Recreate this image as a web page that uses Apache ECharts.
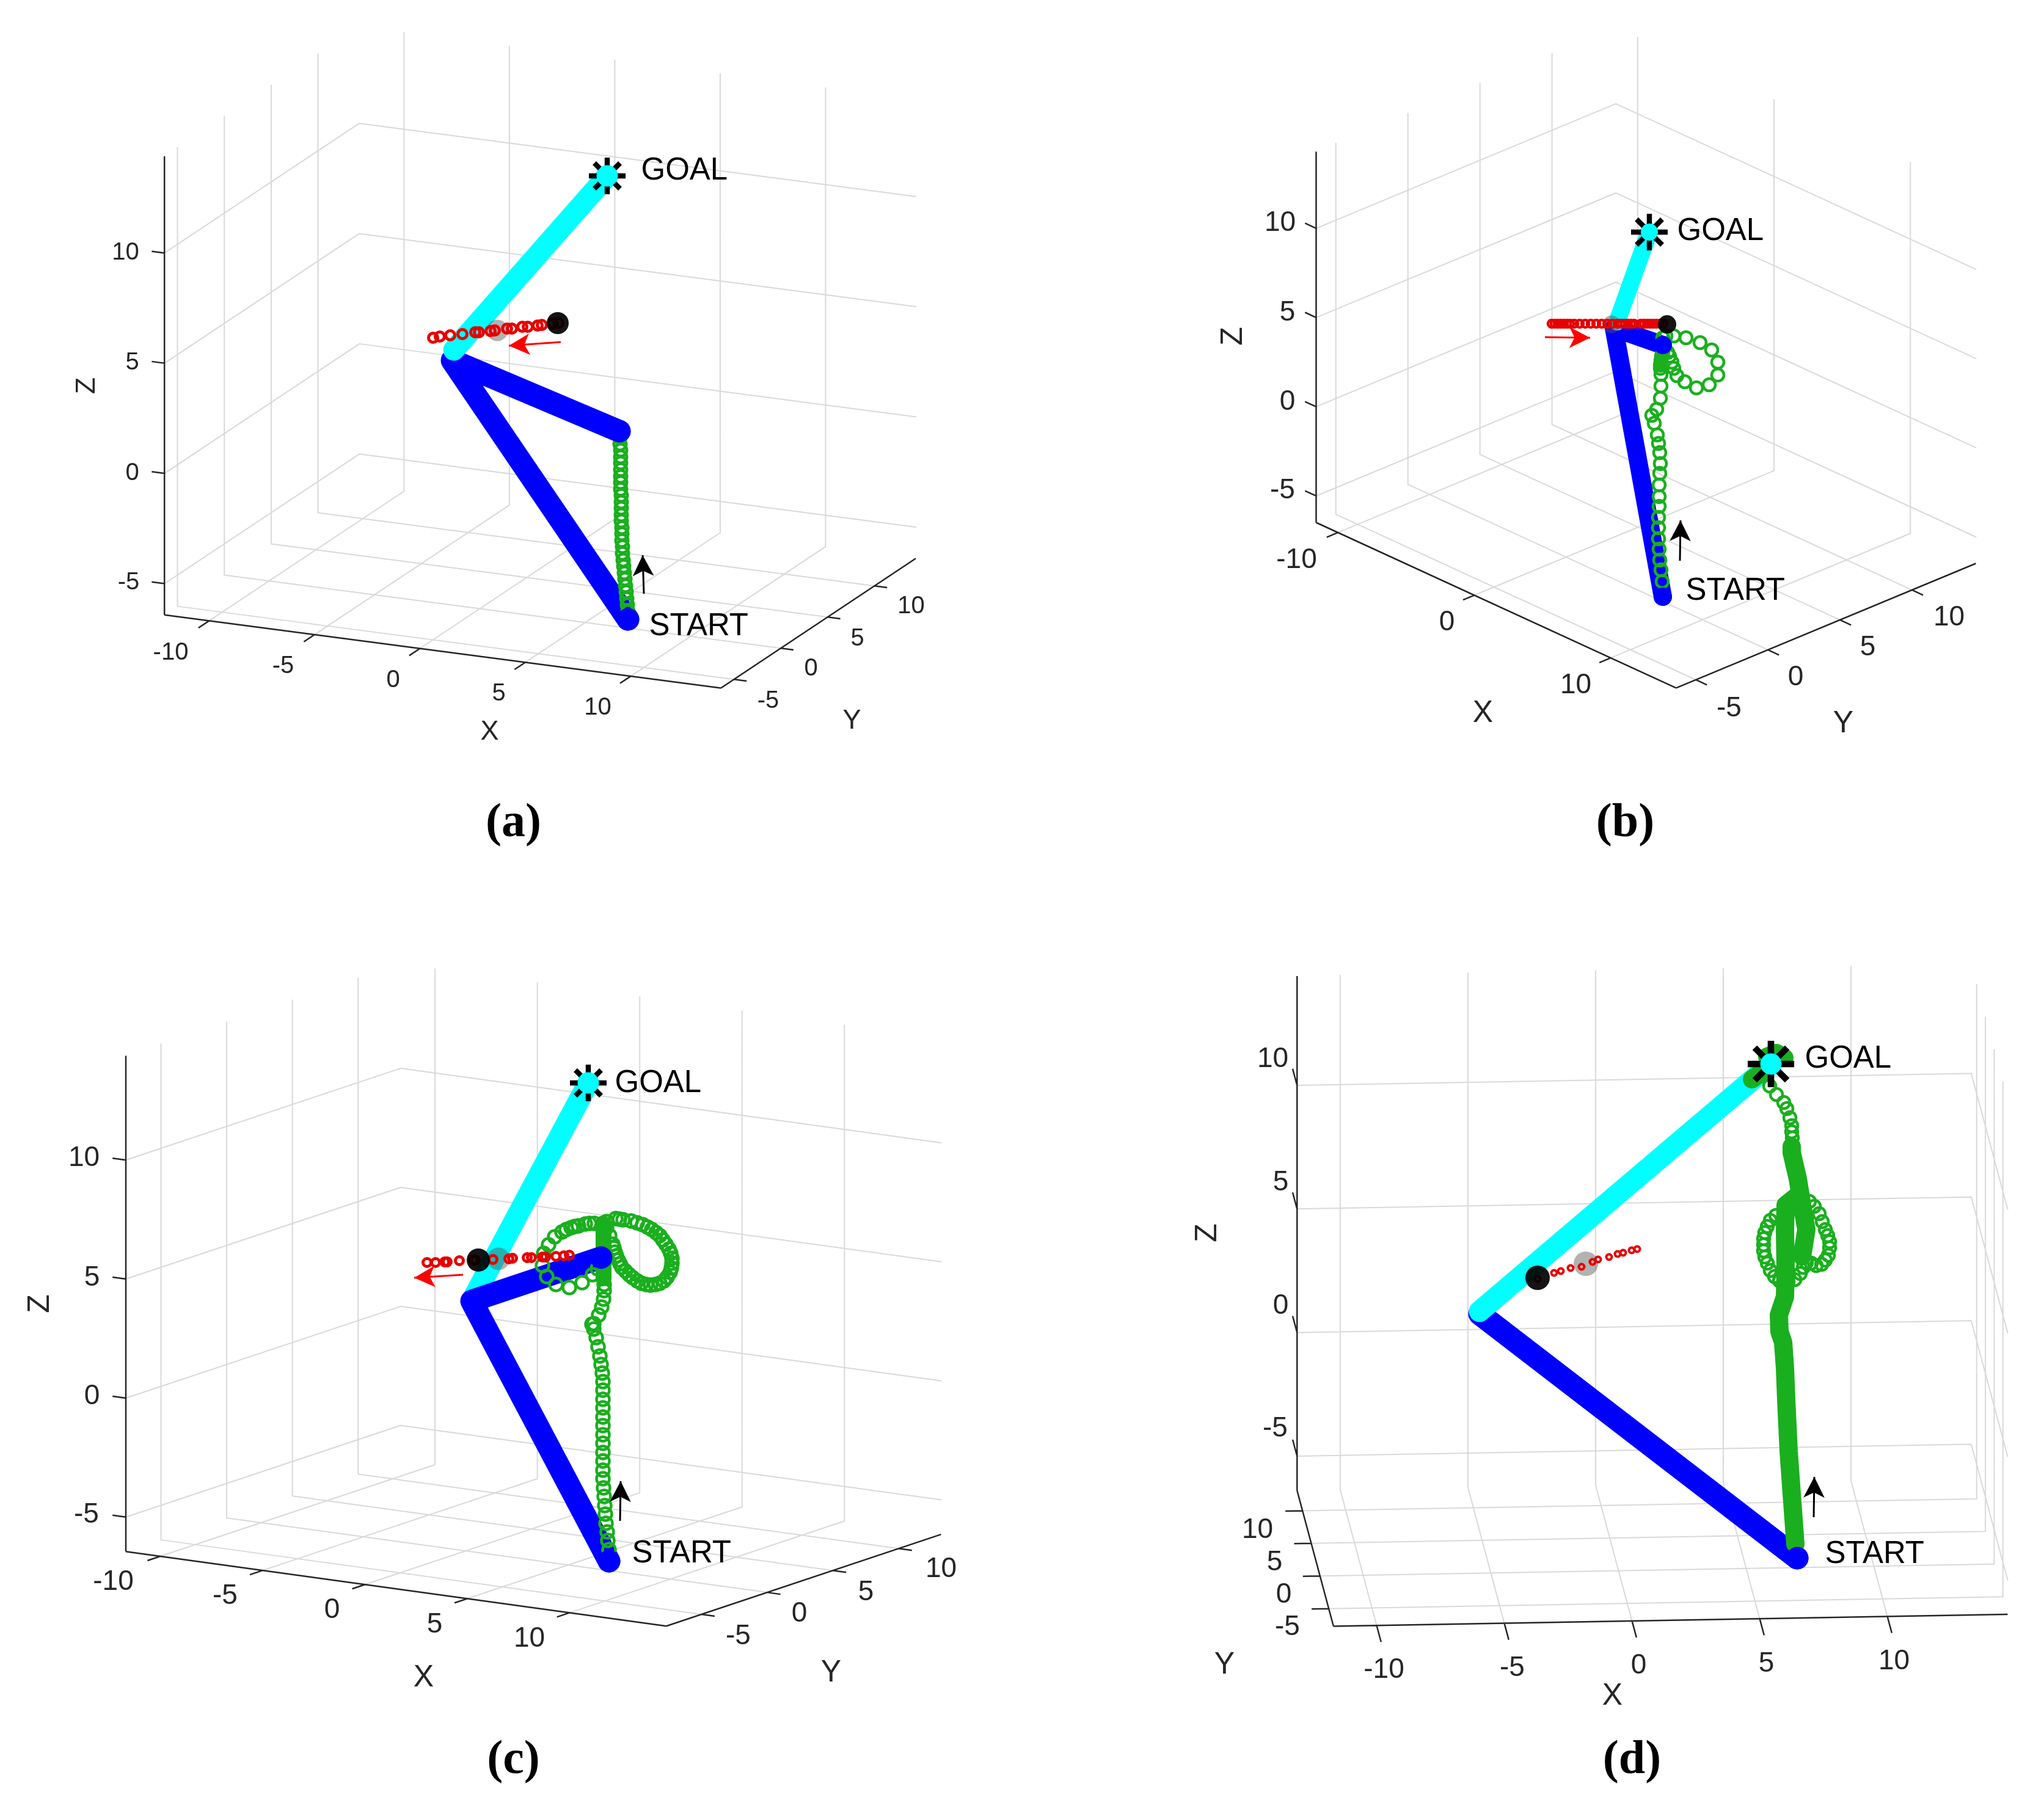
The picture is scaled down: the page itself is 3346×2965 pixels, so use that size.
<!DOCTYPE html>
<html>
<head>
<meta charset="utf-8">
<style>html,body{margin:0;padding:0;background:#fff}#chart{width:3346px;height:2965px}</style>
<script src="https://cdn.jsdelivr.net/npm/echarts@6/dist/echarts.min.js"></script>
</head>
<body>
<div id="chart"></div>
<script>
// 刻度值
const xTicks = [-10, -5, 0, 5, 10];
const xTicksB = [-10, 0, 10];
const yTicks = [-5, 0, 5, 10];
const zTicks = [-5, 0, 5, 10];

// (a) 读图得到的轨迹点
const blueA = [[1028, 1014], [740, 590], [1014, 706]];
const cyanA = [[743, 573], [994, 288]];
const greenA = [[1028, 1001], [1027, 990], [1026, 980], [1025, 969], [1024, 959], [1023, 948], [1022, 938], [1021, 927], [1020, 917], [1019, 906], [1019, 895], [1018, 885], [1018, 874], [1018, 864], [1017, 853], [1017, 843], [1017, 832], [1017, 822], [1017, 811], [1016, 801], [1016, 790], [1016, 780], [1016, 769], [1016, 758], [1016, 748], [1016, 737], [1015, 727], [1015, 716]];
const redA = [[709, 553], [720, 551], [737, 549], [757, 547], [778, 544], [784, 544], [803, 542], [810, 541], [830, 538], [838, 538], [855, 535], [864, 535], [880, 533], [887, 532], [905, 530], [914, 529]];
const tickLabelsA = [['10', 206, 414], ['5', 217, 594], ['0', 217, 775], ['-5', 211, 954], ['-10', 280, 1069], ['-5', 464, 1091], ['0', 644, 1114], ['5', 817, 1136], ['10', 979, 1159], ['-5', 1258, 1148], ['0', 1328, 1095], ['5', 1404, 1046], ['10', 1492, 993]];

// (b)
const blueB = [[2722, 977], [2642, 537], [2722, 565]];
const cyanB = [[2647, 527], [2700, 379]];
const greenB = [[2721, 952], [2719, 933], [2717, 917], [2716, 899], [2715, 882], [2715, 864], [2715, 847], [2716, 829], [2716, 813], [2716, 794], [2717, 775], [2718, 759], [2717, 741], [2715, 726], [2713, 712], [2708, 693], [2704, 680], [2712, 670], [2718, 652], [2719, 632], [2719, 613], [2718, 603], [2718, 597], [2719, 590], [2720, 583], [2722, 577], [2723, 570], [2722, 562], [2722, 553], [2727, 550], [2740, 550], [2760, 553], [2783, 561], [2802, 573], [2812, 593], [2812, 614], [2798, 630], [2777, 635], [2758, 625], [2745, 615], [2740, 603], [2737, 593], [2733, 583], [2730, 577]];
const greenThickB = [[2719, 580], [2718, 600]];
const redB = [[2540, 530], [2545, 530], [2550, 530], [2555, 530], [2560, 530], [2565, 530], [2570, 530], [2577, 530], [2586, 530], [2595, 530], [2604, 530], [2613, 530], [2622, 530], [2631, 530], [2640, 530], [2648, 530], [2654, 530], [2660, 530], [2665, 530], [2670, 530], [2675, 530], [2686, 530], [2691, 530], [2696, 530], [2701, 530], [2706, 530], [2711, 530], [2717, 530], [2723, 530]];
const tickLabelsB = [['10', 2096, 366], ['5', 2108, 513], ['0', 2108, 659], ['-5', 2100, 804], ['-10', 2123, 918], ['0', 2369, 1020], ['10', 2580, 1123], ['-5', 2831, 1161], ['0', 2940, 1110], ['5', 3058, 1061], ['10', 3191, 1012]];

// (c)
const blueC = [[997, 2556], [772, 2130], [984, 2059]];
const cyanC = [[772, 2130], [963, 1773]];
const greenC = [[997, 2537], [995, 2522], [994, 2508], [992, 2494], [991, 2479], [990, 2465], [989, 2450], [988, 2436], [987, 2421], [987, 2407], [987, 2392], [987, 2378], [987, 2363], [987, 2349], [987, 2334], [987, 2320], [987, 2305], [987, 2291], [987, 2276], [987, 2262], [986, 2248], [984, 2234], [982, 2220], [979, 2205], [976, 2190], [972, 2176], [969, 2168], [972, 2167], [980, 2153], [985, 2140], [988, 2127], [989, 2113], [989, 2103], [988, 2090], [993, 2000], [1008, 1995], [1014, 1996], [1020, 1997], [1033, 1999], [1043, 2002], [1052, 2005], [1060, 2009], [1067, 2013], [1074, 2018], [1080, 2023], [1085, 2030], [1090, 2037], [1095, 2045], [1098, 2052], [1100, 2060], [1100, 2068], [1099, 2076], [1097, 2083], [1092, 2091], [1087, 2097], [1080, 2101], [1073, 2103], [1065, 2104], [1058, 2103], [1050, 2101], [1043, 2097], [1036, 2092], [1030, 2087], [1024, 2081], [1018, 2075], [1015, 2069], [1012, 2063], [1009, 2056], [1007, 2050], [1005, 2043], [1003, 2037], [998, 2023], [993, 2010], [987, 2003], [973, 2003], [965, 2003], [958, 2004], [947, 2007], [941, 2008], [935, 2010], [927, 2013], [920, 2017], [908, 2025], [898, 2038], [890, 2052], [888, 2072], [895, 2090], [910, 2103], [932, 2108], [953, 2100], [970, 2087], [978, 2077]];
const greenThickC = [[988, 2093], [988, 2005]];
const redC = [[699, 2067], [713, 2067], [728, 2066], [732, 2066], [752, 2064], [775, 2063], [778, 2063], [807, 2062], [833, 2061], [839, 2060], [863, 2059], [870, 2059], [888, 2058], [893, 2058], [910, 2057], [923, 2056], [932, 2055]];
const tickLabelsC = [['10', 138, 1897], ['5', 151, 2093], ['0', 151, 2287], ['-5', 142, 2481], ['-10', 186, 2591], ['-5', 369, 2614], ['0', 544, 2637], ['5', 712, 2661], ['10', 867, 2684], ['-5', 1209, 2680], ['0', 1309, 2643], ['5', 1418, 2608], ['10', 1541, 2570]];

// (d)
const blueD = [[2942, 2551], [2422, 2151]];
const cyanD = [[2422, 2147], [2899, 1742]];
const greenD = [[2897, 1778], [2908, 1792], [2920, 1805], [2925, 1815], [2930, 1830], [2933, 1843], [2933, 1853], [2934, 1863], [2907, 1990], [2898, 1998], [2893, 2008], [2889, 2018], [2887, 2028], [2887, 2038], [2887, 2048], [2889, 2058], [2893, 2068], [2898, 2080], [2905, 2090], [2913, 2097], [2927, 2098], [2938, 2095], [2947, 2085], [2952, 2075], [2957, 2067], [2965, 2068], [2973, 2072], [2982, 2070], [2988, 2063], [2993, 2055], [2995, 2043], [2995, 2033], [2992, 2023], [2988, 2013], [2983, 2000], [2978, 1987], [2970, 1975], [2962, 1967]];
const greenThickD = [[2939, 2528], [2934, 2460], [2928, 2376], [2924, 2291], [2922, 2240], [2919, 2198], [2913, 2180], [2912, 2153], [2922, 2123], [2923, 2080], [2922, 2013], [2923, 1973], [2943, 1957], ['-', '-'], [2950, 2057], [2957, 2013], [2950, 1973], [2943, 1930], [2933, 1887], [2933, 1877], ['-', '-'], [2868, 1767], [2885, 1755], [2900, 1742], ['-', '-'], [2893, 1730], [2908, 1724], [2921, 1732]];
const redD = [[2517, 2094], [2544, 2084], [2555, 2081], [2571, 2076], [2589, 2074], [2607, 2066], [2616, 2062], [2634, 2058], [2648, 2053], [2657, 2051], [2671, 2047], [2680, 2045]];
const tickLabelsD = [['10', 2084, 1735], ['5', 2097, 1937], ['0', 2097, 2139], ['-5', 2088, 2340], ['-10', 2266, 2735], ['-5', 2476, 2732], ['0', 2683, 2728], ['5', 2892, 2725], ['10', 3101, 2721], ['10', 2059, 2506], ['5', 2087, 2559], ['0', 2102, 2612], ['-5', 2108, 2665]];

// 每个子图的视角（各轴在图上的方向）和标注
const panels = [
  {
    rect: [0, 0, 1673, 1483],
    corner: [269.2, 1006.8], ex: [910.9, 119.7], ey: [319, -212.2], ez: [0, -751.1],
    xLim: [-12.12, 14.28], yLim: [-6.39, 14.41], zLim: [-6.42, 14.39],
    xTicks: xTicks, wallX: 0, yAxisX: 1, zAxisY: 0, xTick: 21, yTick: [1, 0], zTick: [-1, 0],
    links: [blueA, cyanA], order: ['blue', 'cyan'], blueWidth: 37, cyanWidth: 35,
    green: greenA, thick: [], greenSize: 20, greenWidth: 5, red: redA, redSize: 15, redWidth: 5,
    ghost: [814, 541], ghostSize: 35, ball: [913, 529], ballSize: 36,
    star: [994, 288], starSize: 60,
    redArrow: [[918, 560], [833, 566]], blackArrow: [[1054, 972], [1052, 909]],
    tickLabels: tickLabelsA, tickFont: 40, titleFont: 45,
    titles: [['X', 802, 1199, 0], ['Y', 1395, 1181, 0], ['Z', 143, 632, 90]],
    goal: [1050, 280], start: [1063, 1026], caption: ['(a)', 841, 1349]
  },
  {
    rect: [1673, 0, 1673, 1483],
    corner: [2154.5, 855.5], ex: [589.3, 270.9], ey: [490.6, -203.9], ez: [0, -607.3],
    xLim: [-11.6, 14.8], yLim: [-6.37, 14.43], zLim: [-6.49, 14.3],
    xTicks: xTicksB, wallX: 0, yAxisX: 1, zAxisY: 0, xTick: 20, yTick: [1, 0], zTick: [-1, 0],
    links: [blueB, cyanB], order: ['blue', 'cyan'], blueWidth: 30, cyanWidth: 28,
    green: greenB, thick: greenThickB, thickWidth: 20, greenSize: 20, greenWidth: 4.5, red: redB, redSize: 12, redWidth: 4.5,
    ghost: [2638, 531], ghostSize: 29, ball: [2729, 531], ballSize: 30,
    star: [2700, 380], starSize: 60,
    redArrow: [[2529, 552], [2603, 553]], blackArrow: [[2750, 918], [2751, 852]],
    tickLabels: tickLabelsB, tickFont: 46, titleFont: 50,
    titles: [['X', 2428, 1169, 0], ['Y', 3018, 1186, 0], ['Z', 2020, 551, 90]],
    goal: [2746, 379], start: [2760, 968], caption: ['(b)', 2661, 1349]
  },
  {
    rect: [0, 1483, 1673, 1482],
    corner: [206, 2540.3], ex: [884.7, 121.9], ey: [449.8, -150.1], ez: [0, -811.8],
    xLim: [-11.68, 14.72], yLim: [-7.67, 13.23], zLim: [-6.45, 14.38],
    xTicks: xTicks, wallX: 0, yAxisX: 1, zAxisY: 0, xTick: 22, yTick: [1, 0], zTick: [-1, 0],
    links: [cyanC, blueC], order: ['cyan', 'blue'], blueWidth: 37, cyanWidth: 35,
    green: greenC, thick: greenThickC, thickWidth: 26, greenSize: 21, greenWidth: 4.5, red: redC, redSize: 13, redWidth: 5,
    ghost: [816, 2061], ghostSize: 37, ball: [783, 2063], ballSize: 38,
    star: [963, 1773], starSize: 60,
    redArrow: [[758, 2087], [678, 2092]], blackArrow: [[1015, 2490], [1016, 2425]],
    tickLabels: tickLabelsC, tickFont: 46, titleFont: 50,
    titles: [['X', 694, 2748, 0], ['Y', 1361, 2740, 0], ['Z', 67, 2135, 90]],
    goal: [1007, 1774], start: [1035, 2544], caption: ['(c)', 841, 2883]
  },
  {
    rect: [1673, 1483, 1673, 1482],
    corner: [2182.9, 2662.5], ex: [1103.6, -19.5], ey: [-59.6, -222.2], ez: [0, -842.2],
    xLim: [-11.69, 14.71], yLim: [-7.7, 13.1], zLim: [-6.39, 14.42],
    xTicks: xTicks, wallX: 1, yAxisX: 0, zAxisY: 1, xTick: 28, yTick: [-1, 0], zTick: [0, 1],
    links: [blueD, cyanD], order: ['blue', 'cyan'], blueWidth: 37, cyanWidth: 35,
    green: greenD, thick: greenThickD, thickWidth: 30, greenSize: 20, greenWidth: 4.5, red: redD, redSize: 9, redWidth: 4,
    ghost: [2596, 2069], ghostSize: 40, ball: [2517, 2092], ballSize: 40,
    star: [2899, 1742], starSize: 76,
    redArrow: null, blackArrow: [[2969, 2484], [2970, 2418]],
    tickLabels: tickLabelsD, tickFont: 46, titleFont: 50,
    titles: [['X', 2640, 2778, 0], ['Y', 2005, 2727, 0], ['Z', 1978, 2019, 90]],
    goal: [2955, 1734], start: [2988, 2545], caption: ['(d)', 2672, 2883]
  }
];

const GAP = ['-', '-'];
const GRID_COLOR = '#d9d9d9';
const AXIS_COLOR = '#262626';
const GREEN = '#1AAF1E';
const SANS = 'Liberation Sans';
const STAR = 'path://M0 43H100V57H0ZM43 0H57V100H43ZM19.9 10.1L89.9 80.1L80.1 89.9L10.1 19.9ZM80.1 10.1L89.9 19.9L19.9 89.9L10.1 80.1Z';

// 把三维坐标投影到子图平面
function project(p, x, y, z) {
  const a = (x - p.xLim[0]) / (p.xLim[1] - p.xLim[0]);
  const b = (y - p.yLim[0]) / (p.yLim[1] - p.yLim[0]);
  const c = (z - p.zLim[0]) / (p.zLim[1] - p.zLim[0]);
  return [
    p.corner[0] + a * p.ex[0] + b * p.ey[0] + c * p.ez[0],
    p.corner[1] + a * p.ex[1] + b * p.ey[1] + c * p.ez[1]
  ];
}

function gridLines(p) {
  const wall = p.xLim[p.wallX];
  const xOther = p.xLim[1 - p.wallX];
  const [y0, y1] = p.yLim;
  const [z0, z1] = p.zLim;
  const out = [];
  zTicks.forEach(z => {
    out.push(project(p, xOther, y1, z), project(p, wall, y1, z), project(p, wall, y0, z), GAP);
  });
  p.xTicks.forEach(x => {
    out.push(project(p, x, y0, z0), project(p, x, y1, z0), project(p, x, y1, z1), GAP);
  });
  yTicks.forEach(y => {
    out.push(project(p, xOther, y, z0), project(p, wall, y, z0), project(p, wall, y, z1), GAP);
  });
  return out;
}

function axisLines(p) {
  const [x0, x1] = p.xLim;
  const [y0, y1] = p.yLim;
  const [z0, z1] = p.zLim;
  const ax = p.xLim[p.yAxisX];
  const ay = p.yLim[p.zAxisY];
  const out = [
    project(p, x0, y0, z0), project(p, x1, y0, z0), GAP,
    project(p, ax, y0, z0), project(p, ax, y1, z0), GAP,
    project(p, x0, ay, z0), project(p, x0, ay, z1), GAP
  ];
  const ux = Math.hypot(p.ex[0], p.ex[1]);
  const uy = Math.hypot(p.ey[0], p.ey[1]);
  const len = p.xTick;
  p.xTicks.forEach(x => {
    const s = project(p, x, y0, z0);
    out.push(s, [s[0] - p.ey[0] / uy * len, s[1] - p.ey[1] / uy * len], GAP);
  });
  yTicks.forEach(y => {
    const s = project(p, ax, y, z0);
    out.push(s, [s[0] + p.yTick[0] * p.ex[0] / ux * len, s[1] + p.yTick[0] * p.ex[1] / ux * len], GAP);
  });
  zTicks.forEach(z => {
    const s = project(p, x0, ay, z);
    out.push(s, [
      s[0] + (p.zTick[0] * p.ex[0] / ux + p.zTick[1] * p.ey[0] / uy) * len,
      s[1] + (p.zTick[0] * p.ex[1] / ux + p.zTick[1] * p.ey[1] / uy) * len
    ], GAP);
  });
  return out;
}

function textSeries(i, items, fontSize, extra) {
  return {
    type: 'scatter', xAxisIndex: i, yAxisIndex: i, symbolSize: 1, silent: true,
    itemStyle: { color: 'transparent', opacity: 1 },
    data: items.map(t => ({
      value: [t[1], t[2]], name: t[0],
      label: { rotate: t[3] || 0 }
    })),
    label: Object.assign({
      show: true, position: [0, 0], formatter: '{b}', color: AXIS_COLOR, textBorderWidth: 0,
      fontFamily: SANS, fontSize: fontSize, align: 'center', verticalAlign: 'middle'
    }, extra || {})
  };
}

function panelSeries(p, i) {
  const base = { xAxisIndex: i, yAxisIndex: i, silent: true };
  const line = (data, color, width, opts) => Object.assign({
    type: 'line', data: data, symbol: 'none', clip: false,
    lineStyle: { color: color, width: width, cap: 'round', join: 'round' }
  }, base, opts || {});
  const dots = (data, color, size, opacity) => Object.assign({
    type: 'scatter', data: data, symbolSize: size, clip: false,
    itemStyle: { color: color, opacity: opacity }
  }, base);
  const rings = (data, color, size, width) => Object.assign({
    type: 'scatter', data: data, symbolSize: size, clip: false,
    itemStyle: { color: 'transparent', borderColor: color, borderWidth: width, opacity: 1 }
  }, base);
  const arrow = (coords, color) => Object.assign({
    type: 'lines', coordinateSystem: 'cartesian2d', symbol: ['none', 'arrow'], symbolSize: [1, [26, 34]],
    lineStyle: { color: color, width: 3, opacity: 1 }, data: [{ coords: coords }]
  }, base);

  const list = [
    line(gridLines(p), GRID_COLOR, 2),
    line(axisLines(p), AXIS_COLOR, 2.5, { lineStyle: { color: AXIS_COLOR, width: 2.5, cap: 'butt' } }),
    textSeries(i, p.tickLabels, p.tickFont),
    textSeries(i, p.titles, p.titleFont)
  ];
  p.links.forEach((pts, k) => {
    const isBlue = p.order[k] === 'blue';
    list.push(line(pts, isBlue ? '#0000FF' : '#00FFFF', isBlue ? p.blueWidth : p.cyanWidth));
  });
  if (p.thick.length) list.push(line(p.thick, GREEN, p.thickWidth));
  list.push(rings(p.green, GREEN, p.greenSize, p.greenWidth));
  list.push(dots([p.ghost], '#555555', p.ghostSize, 0.45));
  list.push(rings(p.red, '#E60000', p.redSize, p.redWidth));
  list.push(dots([p.ball], '#000000', p.ballSize, 0.92));
  list.push(Object.assign({
    type: 'scatter', data: [p.star], symbol: STAR, symbolSize: p.starSize, clip: false,
    itemStyle: { color: '#000000', opacity: 1 }
  }, base));
  const blue = p.links[p.order.indexOf('blue')];
  const blueEnds = blue.length > 2 ? [blue[0], blue[2]] : [blue[0]];
  list.push(dots(blueEnds, '#0000FF', p.blueWidth, 1));
  list.push(dots([p.star], '#00FFFF', p.cyanWidth, 1));
  if (p.redArrow) list.push(arrow(p.redArrow, '#FF0000'));
  list.push(arrow(p.blackArrow, '#000000'));
  list.push(textSeries(i, [['GOAL', p.goal[0], p.goal[1]], ['START', p.start[0], p.start[1]]], 51, { color: '#000000', align: 'left' }));
  list.push(textSeries(i, [p.caption], 78, { color: '#000000', fontFamily: 'Liberation Serif', fontWeight: 'bold' }));
  // 按加入顺序决定上下层，line 和 scatter 的默认 z 不一样
  list.forEach((s, k) => { s.z = 2 + k; });
  return list;
}

let chartConfig = {
  animation: false,
  backgroundColor: '#ffffff',
  grid: panels.map(p => ({ left: p.rect[0], top: p.rect[1], width: p.rect[2], height: p.rect[3], containLabel: false })),
  xAxis: panels.map((p, i) => ({ type: 'value', gridIndex: i, show: false, min: p.rect[0], max: p.rect[0] + p.rect[2] })),
  yAxis: panels.map((p, i) => ({ type: 'value', gridIndex: i, show: false, inverse: true, min: p.rect[1], max: p.rect[1] + p.rect[3] })),
  series: panels.flatMap(panelSeries)
};

let chart = echarts.init(document.getElementById('chart'));
chart.setOption(chartConfig);
window.addEventListener('resize', function () {
  chart.resize();
});
</script>
</body>
</html>
